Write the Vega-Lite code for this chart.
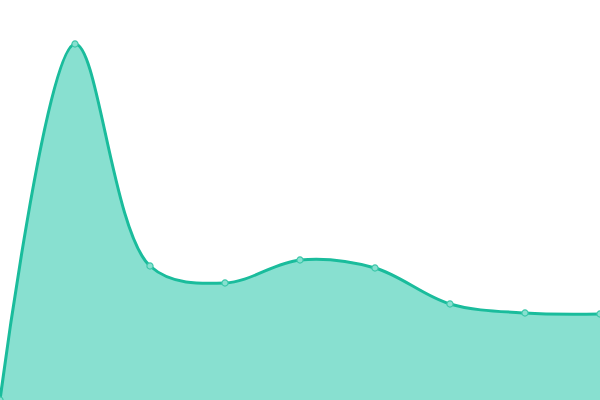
{
  "$schema": "https://vega.github.io/schema/vega-lite/v6.json",
  "width": 600,
  "height": 400,
  "padding": 0,
  "autosize": {"type": "none"},
  "background": "white",
  "config": {"view": {"stroke": null}},
  "data": {"values": [
    {"x": 0, "y": 0},
    {"x": 1, "y": 356},
    {"x": 2, "y": 134},
    {"x": 3, "y": 117},
    {"x": 4, "y": 140},
    {"x": 5, "y": 132},
    {"x": 6, "y": 96},
    {"x": 7, "y": 87},
    {"x": 8, "y": 86}
  ]},
  "encoding": {
    "x": {"field": "x", "type": "quantitative", "scale": {"domain": [0, 8], "nice": false, "zero": false}, "axis": null},
    "y": {"field": "y", "type": "quantitative", "scale": {"domain": [0, 400], "nice": false}, "axis": null}
  },
  "layer": [
    {"mark": {"type": "area", "interpolate": "catmull-rom", "color": "#88e0d0", "opacity": 1, "line": {"color": "#1abc9c", "strokeWidth": 3}}},
    {"mark": {"type": "point", "filled": true, "fill": "#88e0d0", "stroke": "#3cc7a9", "strokeWidth": 1.2, "size": 38, "opacity": 1}}
  ]
}
